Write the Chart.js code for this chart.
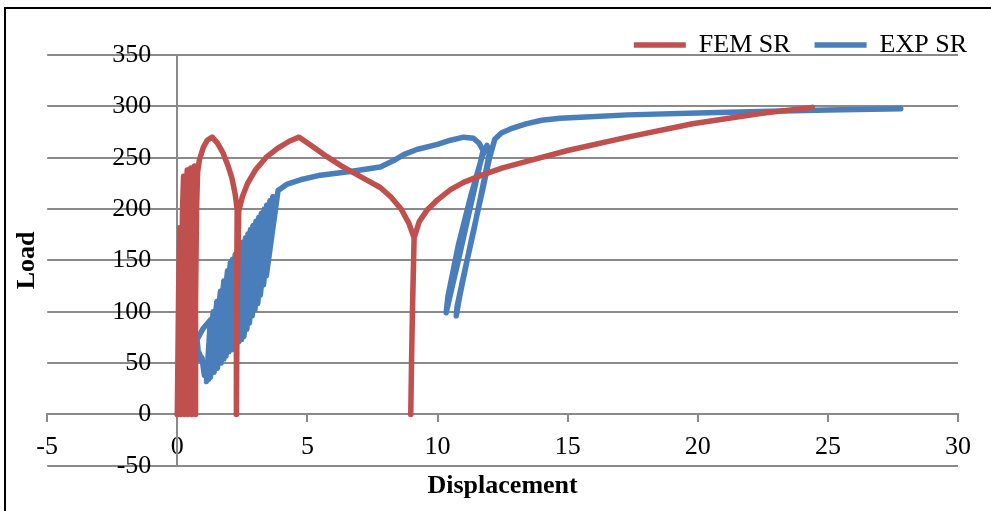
<!DOCTYPE html>
<html>
<head>
<meta charset="utf-8">
<script src="https://cdn.jsdelivr.net/npm/chart.js@4/dist/chart.umd.min.js"></script>
<style>
  html, body { margin: 0; padding: 0; background: #fff; }
  #wrap { position: relative; width: 991px; height: 511px; }
  #marco { position: absolute; left: 4px; top: 7px; right: -10px; bottom: -10px;
           border-left: 2px solid #000; border-top: 2px solid #000; pointer-events: none; }
</style>
</head>
<body>
<div id="wrap">
  <canvas id="grafico" width="991" height="511"></canvas>
  <div id="marco"></div>
</div>
<script>
// 1. Datos
const serieFem = 'FEM SR';
const serieExp = 'EXP SR';

const femDesp = [0, 0.05, 0.1, 0.12, 0.13,
  0.16, 0.2, 0.24, 0.26, 0.27,
  0.3, 0.34, 0.38, 0.4, 0.41,
  0.44, 0.48, 0.52, 0.54, 0.55,
  0.58, 0.62, 0.66, 0.68, 0.69,
  0.71, 0.74, 0.78, 0.85, 1.0, 1.15, 1.34, 1.55, 1.75, 1.95,
  2.1, 2.22, 2.3, 2.28, 2.27, 2.3, 2.36, 2.5, 2.7, 3.0, 3.4, 3.85, 4.3, 4.68, 5.2, 5.75, 6.3,
  6.8, 7.3, 7.8, 8.2, 8.6, 8.9, 9.1, 9.05, 9.0, 8.97, 9.02, 9.1, 9.3, 9.6, 10.0, 10.5, 11.0,
  11.7, 12.5, 13.5, 15.0, 17.3, 19.8, 22.4, 24.4];
const femCarga = [0, 120, 182, 100, 0,
  110, 200, 232, 150, 0,
  120, 215, 238, 160, 0,
  120, 220, 240, 150, 0,
  120, 220, 242, 160, 0,
  110, 200, 236, 248, 260, 267, 270, 264, 255, 242,
  230, 215, 200, 120, 0, 110, 198, 212, 225, 238, 250, 259, 266, 270, 261, 251, 242,
  235, 228, 221, 212, 200, 186, 172, 120, 50, 0, 80, 172, 188, 199, 209, 219, 226,
  233, 240, 247, 257, 270, 283, 293, 299];

const expDesp = [0, 0.08, 0.16, 0.24, 0.3, 0.32, 0.65, 0.95, 1.0, 1.04, 1.0, 0.8, 0.76, 1.0,
  1.27, 1.18, 1.12, 1.38, 1.2, 1.52, 1.27, 1.66, 1.41, 1.79, 1.54, 1.93, 1.68, 2.04, 1.79,
  2.12, 1.87, 2.23, 1.98, 2.34, 2.09, 2.43, 2.18, 2.53, 2.28, 2.62, 2.37, 2.72, 2.47,
  2.81, 2.56, 2.91, 2.67, 3.02, 2.77, 3.13, 2.88, 3.23, 2.98, 3.34, 3.09, 3.44, 3.19,
  3.56, 3.31, 3.67, 3.42, 3.87,
  4.2, 4.73, 5.5, 6.65, 7.8, 8.3, 8.7, 9.2, 10.0, 10.5, 11.0, 11.38, 11.6, 11.75,
  11.6, 11.2, 10.8, 10.45, 10.33, 10.4, 10.8, 11.3, 11.7, 11.9, 12.0, 11.8, 11.4, 11.0,
  10.75, 10.72, 10.85, 11.3, 11.7, 12.0, 12.2, 12.45, 12.8, 13.4, 14.0, 14.7, 15.5,
  17.3, 20.0, 22.4, 25.0, 27.8];
const expCarga = [0, 12, 25, 35, 48, 52, 52, 55, 45, 38, 50, 62, 73, 84,
  92, 55, 32, 100, 34, 110, 36, 120, 41, 130, 45, 140, 50, 148, 54,
  151, 57, 156, 61, 160, 63, 164, 66, 168, 69, 172, 71, 176, 73,
  180, 76, 184, 83, 188, 89, 192, 96, 196, 102, 200, 108, 204, 116,
  208, 126, 212, 135, 218,
  224, 228.5, 233, 236.5, 241, 247, 253, 258, 263, 267, 270, 269, 264, 257,
  240, 195, 150, 112, 99, 115, 165, 215, 250, 262, 255, 230, 180, 135,
  105, 96, 115, 170, 215, 250, 268, 274, 278, 283, 286.5, 288.5, 289.5,
  291.7, 293.5, 295, 296.5, 297.7];

const ticksX = [-5, 0, 5, 10, 15, 20, 25, 30];
const ticksY = [-50, 0, 50, 100, 150, 200, 250, 300, 350];

// 2. Utilidades
function puntos(xs, ys) {
  return xs.map((x, i) => ({ x: x, y: ys[i] }));
}

const colorRejilla = '#8a8a8a';
const fuente = 'Liberation Serif';

Chart.defaults.font.family = fuente;
Chart.defaults.font.size = 26;
Chart.defaults.color = '#000';

function serie(etiqueta, datos, color) {
  return {
    label: etiqueta,
    data: datos,
    showLine: true,
    borderColor: color,
    backgroundColor: color,
    borderWidth: 5.5,
    borderCapStyle: 'round',
    borderJoinStyle: 'round',
    pointRadius: 0,
    pointHoverRadius: 0,
    pointStyle: 'line'
  };
}

// 3. Grafico
const ctx = document.getElementById('grafico').getContext('2d');
const grafico = new Chart(ctx, {
  type: 'scatter',
  data: {
    datasets: [
      serie(serieFem, puntos(femDesp, femCarga), '#c0504d'),
      serie(serieExp, puntos(expDesp, expCarga), '#4a7ebb')
    ]
  },
  options: {
    responsive: false,
    animation: false,
    layout: { padding: { left: 0, right: 0, top: 8, bottom: 1 } },
    plugins: {
      tooltip: { enabled: false },
      legend: {
        position: 'top',
        align: 'end',
        maxHeight: 47,
        labels: {
          usePointStyle: true,
          pointStyleWidth: 52,
          padding: 24,
          font: { size: 26, family: fuente }
        }
      },
      title: {
        display: true,
        position: 'bottom',
        fullSize: false,
        text: 'Displacement',
        font: { size: 26, weight: 'bold', family: fuente },
        padding: { top: 5, bottom: 8 }
      },
      subtitle: {
        display: true,
        position: 'left',
        fullSize: false,
        text: 'Load',
        font: { size: 26, weight: 'bold', family: fuente },
        padding: { top: 12, bottom: 4 }
      }
    },
    scales: {
      x: {
        type: 'linear',
        min: -5,
        max: 30,
        position: { y: 0 },
        afterFit: (s) => { s.paddingRight = 33; },
        afterBuildTicks: (s) => { s.ticks = ticksX.map(v => ({ value: v })); },
        grid: { drawOnChartArea: false, drawTicks: true, tickLength: 7, color: colorRejilla, lineWidth: 2 },
        border: { color: colorRejilla, width: 2 },
        ticks: { padding: 10, font: { size: 26, family: fuente }, color: '#000' }
      },
      y: {
        type: 'linear',
        min: -50,
        max: 350,
        position: { x: 0 },
        afterBuildTicks: (s) => { s.ticks = ticksY.map(v => ({ value: v })); },
        grid: { color: colorRejilla, lineWidth: 2, tickLength: 7 },
        border: { color: colorRejilla, width: 2 },
        ticks: {
          font: { size: 26, family: fuente },
          color: '#000',
          // separa la etiqueta del eje vertical
          callback: (v) => v + '\u2002\u2002'
        }
      }
    }
  }
});
</script>
</body>
</html>
